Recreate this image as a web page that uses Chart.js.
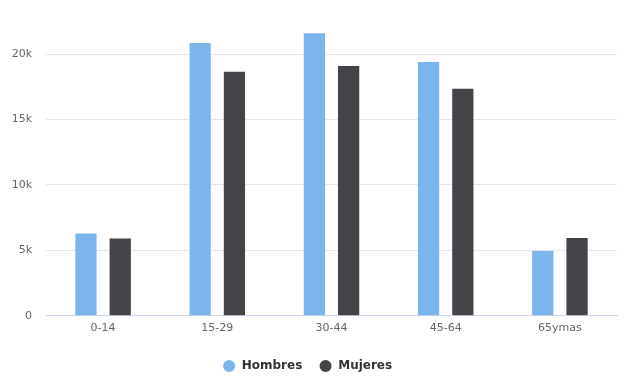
<!DOCTYPE html>
<html>
<head>
<meta charset="utf-8">
<script src="https://cdn.jsdelivr.net/npm/chart.js@4"></script>
<style>
  body { margin: 0; background: #fff; }
  #wrap { width: 627px; height: 376px; }
</style>
</head>
<body>
<div id="wrap"><canvas id="edadChart"></canvas></div>
<script>
const grupos = ['0-14', '15-29', '30-44', '45-64', '65ymas'];
const hombres = [6300, 20850, 21600, 19400, 4950];
const mujeres = [5900, 18650, 19100, 17350, 5950];
const yTicks = [0, 5000, 10000, 15000, 20000];

const dataEdad = {
  labels: grupos,
  datasets: [{
    label: 'Hombres',
    data: hombres,
    backgroundColor: '#7cb5ec'
  }, {
    label: 'Mujeres',
    data: mujeres,
    backgroundColor: '#434348'
  }]
};

const configEdad = {
  type: 'bar',
  data: dataEdad,
  options: {
    responsive: true,
    maintainAspectRatio: false,
    animation: false,
    categoryPercentage: 0.6,
    barPercentage: 0.62,
    // legend sits low in the original, so pull the bottom in a bit
    layout: { padding: { top: 28, right: 10, left: 0, bottom: -6 } },
    plugins: {
      tooltip: { enabled: false },
      legend: {
        position: 'bottom',
        labels: {
          usePointStyle: true,
          pointStyle: 'circle',
          boxWidth: 8.5,
          boxHeight: 8.5,
          padding: 19,
          color: '#333333',
          font: { family: 'DejaVu Sans', size: 12, weight: 'bold' },
          // a bit more room between dot and text
          generateLabels: chart =>
            Chart.defaults.plugins.legend.labels.generateLabels(chart)
              .map(l => ({ ...l, text: '\u2009' + l.text }))
        }
      }
    },
    scales: {
      x: {
        grid: { display: false, drawTicks: false },
        border: { color: '#ccd6eb' },
        ticks: {
          padding: 6,
          color: '#666666',
          font: { family: 'DejaVu Sans', size: 11 }
        }
      },
      y: {
        min: 0,
        max: 22000,
        afterBuildTicks: scale => {
          scale.ticks = yTicks.map(v => ({ value: v }));
        },
        afterFit: scale => { scale.width = 46; },
        grid: { color: '#e6e6e6', drawTicks: false },
        border: { display: false },
        ticks: {
          padding: 14,
          color: '#666666',
          font: { family: 'DejaVu Sans', size: 11 },
          callback: v => v === 0 ? '0' : (v / 1000) + 'k'
        }
      }
    }
  }
};

var edadChart = new Chart(
  document.getElementById('edadChart'),
  configEdad
);
</script>
</body>
</html>
